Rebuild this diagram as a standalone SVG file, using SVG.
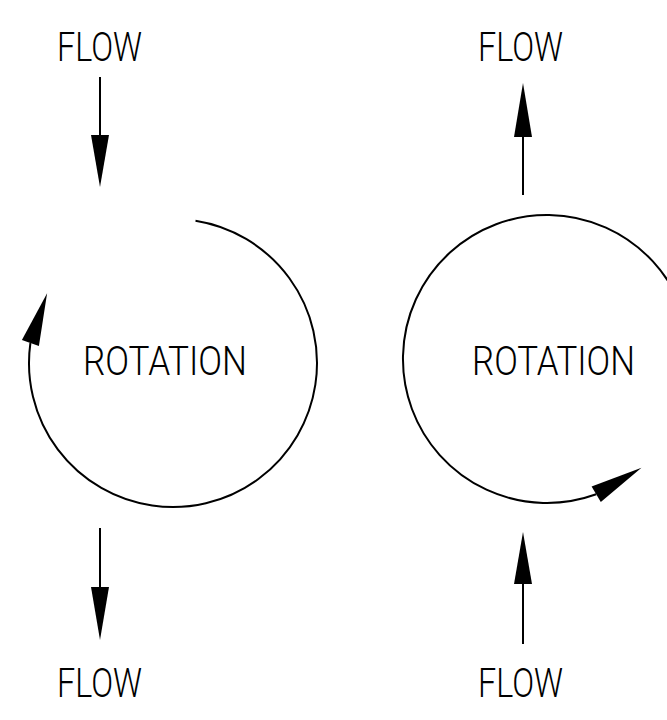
<svg xmlns="http://www.w3.org/2000/svg" width="667" height="720" viewBox="0 0 667 720">
<style>
  .lbl { font-family: Roboto, "Liberation Sans", Arial, sans-serif; font-weight: 300; font-size: 41px; fill: #000; }
  .ln { stroke: #000; stroke-width: 2; fill: none; }
  .hd { fill: #000; stroke: none; }
</style>
<rect width="667" height="720" fill="#fff"/>
<g id="rotation-left">
  <path class="ln" d="M195.5,220.8 A144,144 0 1 1 30.4,343"/>
  <polygon class="hd" points="47.1,293.2 21.9,340.1 38.9,345.9"/>
  <text class="lbl" x="83" y="375" textLength="164" lengthAdjust="spacingAndGlyphs">ROTATION</text>
</g>
<g id="rotation-right">
  <path class="ln" d="M681.4,307.4 A144,144 0 1 0 596.2,494.3"/>
  <polygon class="hd" points="641.5,467.7 591.6,486.5 600.8,502.1"/>
  <text class="lbl" x="472" y="375" textLength="163" lengthAdjust="spacingAndGlyphs">ROTATION</text>
</g>
<g id="flow-left-top"><text class="lbl" x="57" y="61" textLength="85" lengthAdjust="spacingAndGlyphs">FLOW</text></g>
<g id="flow-left-bottom"><text class="lbl" x="57" y="697" textLength="85" lengthAdjust="spacingAndGlyphs">FLOW</text></g>
<g id="flow-right-top"><text class="lbl" x="478" y="61" textLength="85" lengthAdjust="spacingAndGlyphs">FLOW</text></g>
<g id="flow-right-bottom"><text class="lbl" x="478" y="697" textLength="85" lengthAdjust="spacingAndGlyphs">FLOW</text></g>
<g id="connectors">
  <line class="ln" x1="100" y1="77" x2="100" y2="136"/>
  <polygon class="hd" points="100,187 91,135 109,135"/>
  <line class="ln" x1="100" y1="528" x2="100" y2="588"/>
  <polygon class="hd" points="100,640 91,587 109,587"/>
  <line class="ln" x1="523" y1="195" x2="523" y2="136"/>
  <polygon class="hd" points="523,83 514,137 532,137"/>
  <line class="ln" x1="523" y1="644" x2="523" y2="583"/>
  <polygon class="hd" points="523,532 514,584 532,584"/>
</g>
</svg>
